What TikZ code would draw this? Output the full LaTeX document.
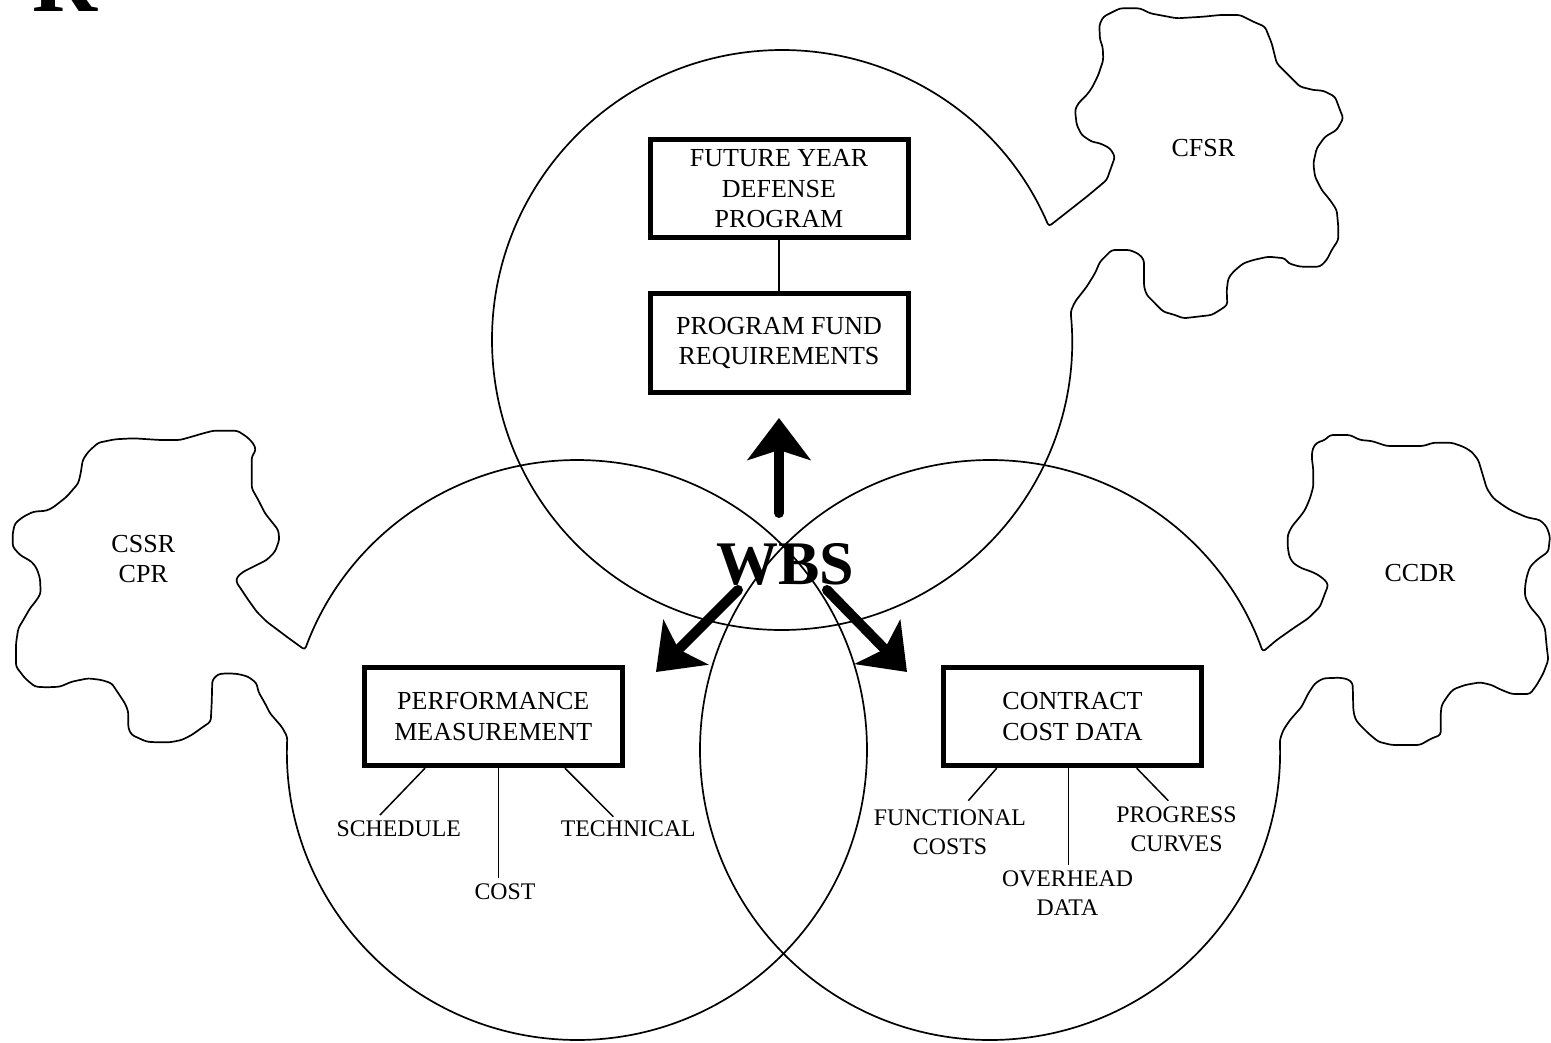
\documentclass[tikz,border=0pt]{standalone}
\usepackage{fontspec}
\setmainfont{Liberation Serif}
\usetikzlibrary{arrows.meta}
\newcommand\mylblfont{\fontsize{26}{30.5}\selectfont}
\newcommand\myleaffont{\fontsize{23.8}{29}\selectfont}
\begin{document}
\begin{tikzpicture}[x=1pt,y=-1pt,
  ring/.style={line width=1.7pt, line join=round},
  bx/.style={draw, line width=5pt, minimum width=258pt, minimum height=98pt, align=center, inner sep=0pt, font=\mylblfont},
  lbl/.style={align=center, inner sep=0pt, font=\mylblfont},
  leaflbl/.style={align=center, inner sep=0pt, font=\myleaffont},
  leaf/.style={line width=1.5pt},
  bigarrow/.style={line width=10pt, line cap=round, -{Stealth[length=42pt,width=63pt,inset=10pt]}}]
\useasboundingbox (0,0) rectangle (1551,1043);
\coordinate (ctop) at (782,340);
\coordinate (cleft) at (577,750);
\coordinate (cright) at (990,750);

% top circle with CFSR cloud
\draw[ring, rounded corners=3pt] ([shift={(-5.6:290)}]ctop) arc[start angle=-5.6, end angle=336.94, radius=290]
 -- (1086.7,196.7) -- (1106.7,180) -- (1115,156.7) -- (1110,148.3) -- (1100,143.3) -- (1091.7,141.7) -- (1081.7,135) -- (1076.7,125) -- (1075,110) -- (1078.3,103.3) -- (1086.7,95) -- (1091.7,88.3) -- (1098.3,75) -- (1103.3,60) -- (1102.7,46.7) -- (1100,40) -- (1099.3,25) -- (1103.3,16.7) -- (1110,13.3) -- (1120,8.3) -- (1140,8.3) -- (1150,13.3) -- (1176.7,18.3) -- (1203.3,16.7) -- (1220,15) -- (1240,15) -- (1253.3,21.7) -- (1265,26.7) -- (1271.7,43.3) -- (1276.7,63.3) -- (1286.7,73.3) -- (1300,86.7) -- (1313.3,90) -- (1323.3,90.7) -- (1335,96.7) -- (1340,110) -- (1343.3,118.3) -- (1336.7,130) -- (1325,136.7) -- (1316.7,148.3) -- (1313.3,163.3) -- (1315,176.7) -- (1321.7,190) -- (1330,200) -- (1336.7,210) -- (1338.3,226.7) -- (1338.3,240) -- (1331.7,250) -- (1326.7,260) -- (1320,266.7) -- (1300,266.7) -- (1288.3,263.3) -- (1285,258.3) -- (1268.3,256.7) -- (1253.3,260) -- (1243.3,263.3) -- (1233.3,271.7) -- (1228.3,278.3) -- (1226.7,290) -- (1227.3,305) -- (1220,310) -- (1211.7,315) -- (1183.3,318.3) -- (1175,315) -- (1163.3,311.7) -- (1155,303.3) -- (1146.7,295) -- (1144,286.7) -- (1144,260) -- (1139.3,254.3) -- (1130,250) -- (1111.7,250) -- (1100,261.7) -- (1095,273.3) -- (1086.7,286.7) -- (1075,301.7) -- cycle;

% left circle with CSSR cloud
\draw[ring, rounded corners=3pt] ([shift={(182.6:290)}]cleft) arc[start angle=182.6, end angle=-159.8, radius=290]
 -- (286.7,636.7) -- (266.7,621.7) -- (256.7,611.7) -- (248.3,600) -- (241.7,590) -- (236,581.7) -- (237.3,576.7) -- (243.3,571.7) -- (253.3,566.7) -- (266.7,560) -- (275,551.7) -- (279.3,540) -- (278.3,530) -- (271.7,521.7) -- (265,513.3) -- (258.3,500) -- (251.7,488.3) -- (251.7,473.3) -- (251.7,456.7) -- (256,450) -- (253.3,443.3) -- (246.7,436.7) -- (237.3,430.7) -- (213.3,430.7) -- (203.3,433.3) -- (191.7,436.7) -- (180,440) -- (160,440) -- (133.3,438.3) -- (115,439.3) -- (98.3,442.7) -- (88.3,451.7) -- (82.7,460) -- (80.7,473.3) -- (78.3,483.3) -- (66.7,496.7) -- (53.3,507.3) -- (46.7,510.7) -- (33.3,511.7) -- (23.3,516.7) -- (15,523.3) -- (12.7,533.3) -- (12.7,546.7) -- (20,555) -- (31.7,561.7) -- (36.7,568.3) -- (40,578.3) -- (40.7,593.3) -- (36.7,600) -- (30,608.3) -- (23.3,620) -- (18.3,628.3) -- (16,643.3) -- (16,666.7) -- (20,671.7) -- (25,678.3) -- (35,686.7) -- (46.7,687.3) -- (60,686.7) -- (71.7,681.7) -- (88.3,678.3) -- (101.7,680) -- (111.7,683.3) -- (118.3,693.3) -- (125,703.3) -- (128.3,711.7) -- (128.3,728.3) -- (131.7,735) -- (146.7,741.7) -- (156.7,742.3) -- (170,742.3) -- (181.7,740) -- (191.7,735) -- (203.3,726.7) -- (210.7,721.7) -- (211.7,703.3) -- (212.3,680) -- (218.3,674) -- (228.3,673.3) -- (238.3,674) -- (248.3,676.7) -- (256.7,683.3) -- (258.3,691.7) -- (265,703.3) -- (270,713.3) -- (281.7,726.7) -- cycle;

% right circle with CCDR cloud
\draw[ring, rounded corners=3pt] ([shift={(-2:290)}]cright) arc[start angle=-2, end angle=340.2, radius=290]
 -- (1276.7,640) -- (1293.3,628.3) -- (1308.3,618.3) -- (1320,606.7) -- (1325,593.3) -- (1328.3,585) -- (1325,580) -- (1318.3,575) -- (1311.7,571.7) -- (1301.7,568.3) -- (1293.3,563.3) -- (1289.3,556.7) -- (1287.7,546.7) -- (1287.7,535) -- (1291.7,526.7) -- (1300,516.7) -- (1305,510) -- (1310,498.3) -- (1313.3,486.7) -- (1313.3,470) -- (1311.7,456.7) -- (1312.7,448.3) -- (1316.7,442.7) -- (1325,440) -- (1330,435) -- (1350,435) -- (1360,440) -- (1371.7,441) -- (1386.7,446) -- (1423.3,446) -- (1433.3,442.7) -- (1451.7,442.7) -- (1463.3,446.7) -- (1471.7,451.7) -- (1478.3,460) -- (1483.3,476.7) -- (1486.7,488.3) -- (1493.3,498.3) -- (1505,506.7) -- (1511.7,510.7) -- (1526.7,517.3) -- (1540,520) -- (1546.7,526.7) -- (1550,536.7) -- (1548.3,551.7) -- (1536.7,560) -- (1530,566.7) -- (1526.7,576.7) -- (1525,586.7) -- (1525,596.7) -- (1530,606.7) -- (1540,618.3) -- (1545,628.3) -- (1546.7,646.7) -- (1548.3,660) -- (1543.3,673.3) -- (1536.7,685) -- (1530,694) -- (1511.7,694) -- (1500,689.3) -- (1491.7,685) -- (1480,682.3) -- (1465,685) -- (1453.3,689.3) -- (1448.3,695) -- (1441.7,705) -- (1440.7,713.3) -- (1440.7,735) -- (1431.7,738.3) -- (1420,745) -- (1391.7,745) -- (1378.3,741.7) -- (1368.3,733.3) -- (1358.3,723.3) -- (1355,718.3) -- (1353.3,710) -- (1352.7,683.3) -- (1348.3,679.3) -- (1340,677.7) -- (1323.3,678.3) -- (1315,683.3) -- (1308.3,693.3) -- (1301.7,706.7) -- (1290,720) -- (1283.3,730) -- cycle;

% letter (cut off at the top edge, as in the reference)
\node[anchor=base west, inner sep=0pt, font=\fontsize{90}{90}\selectfont\bfseries] (R) at (32.7,11.7) {R};

% cloud labels
\node[lbl] (cfsr) at (1203.3,148.3) {CFSR};
\node[lbl] (cssr) at (143.3,559) {CSSR\\CPR};
\node[lbl] (ccdr) at (1420,572.7) {CCDR};

% boxes
\node[bx] (fydp) at (779,189) {FUTURE YEAR\\DEFENSE\\PROGRAM};
\node[bx] (pfr) at (779,343) {PROGRAM FUND\\REQUIREMENTS};
\node[bx] (perf) at (493.3,716.7) {PERFORMANCE\\MEASUREMENT};
\node[bx] (ccd) at (1072.5,716.7) {CONTRACT\\COST DATA};
\draw[leaf] (fydp.south) -- (pfr.north);

% WBS and arrows
\node[inner sep=0pt, font=\fontsize{62}{62}\selectfont\bfseries] (wbs) at (785,564) {WBS};
\coordinate (aup0) at (779,513);
\coordinate (aup1) at (779,418);
\coordinate (al0) at (738,590);
\coordinate (al1) at (656,672);
\coordinate (ar0) at (827,590);
\coordinate (ar1) at (907,672);
\draw[bigarrow] (aup0) -- (aup1);
\draw[bigarrow] (al0) -- (al1);
\draw[bigarrow] (ar0) -- (ar1);

% leaf labels
\node[leaflbl] (sched) at (398.7,828.3) {SCHEDULE};
\node[leaflbl] (cost) at (505,891.7) {COST};
\node[leaflbl] (tech) at (628.3,828.3) {TECHNICAL};
\node[leaflbl] (func) at (950,832) {FUNCTIONAL\\COSTS};
\node[leaflbl] (ovh) at (1067.5,893.3) {OVERHEAD\\DATA};
\node[leaflbl] (prog) at (1176.5,829) {PROGRESS\\CURVES};

\coordinate (e1) at (380,815);
\coordinate (e2) at (498.3,878.3);
\coordinate (e3) at (613.3,816.7);
\coordinate (e4) at (968.3,800.7);
\coordinate (e5) at (1068.3,865);
\coordinate (e6) at (1168.3,800.7);
\draw[leaf] (perf.south) ++(-68.3,0) -- (e1);
\draw[leaf] (perf.south) ++(5,0) -- (e2);
\draw[leaf] (perf.south) ++(71.7,0) -- (e3);
\draw[leaf] (ccd.south) ++(-75.8,0) -- (e4);
\draw[leaf] (ccd.south) ++(-4.2,0) -- (e5);
\draw[leaf] (ccd.south) ++(64.2,0) -- (e6);
\end{tikzpicture}
\end{document}
